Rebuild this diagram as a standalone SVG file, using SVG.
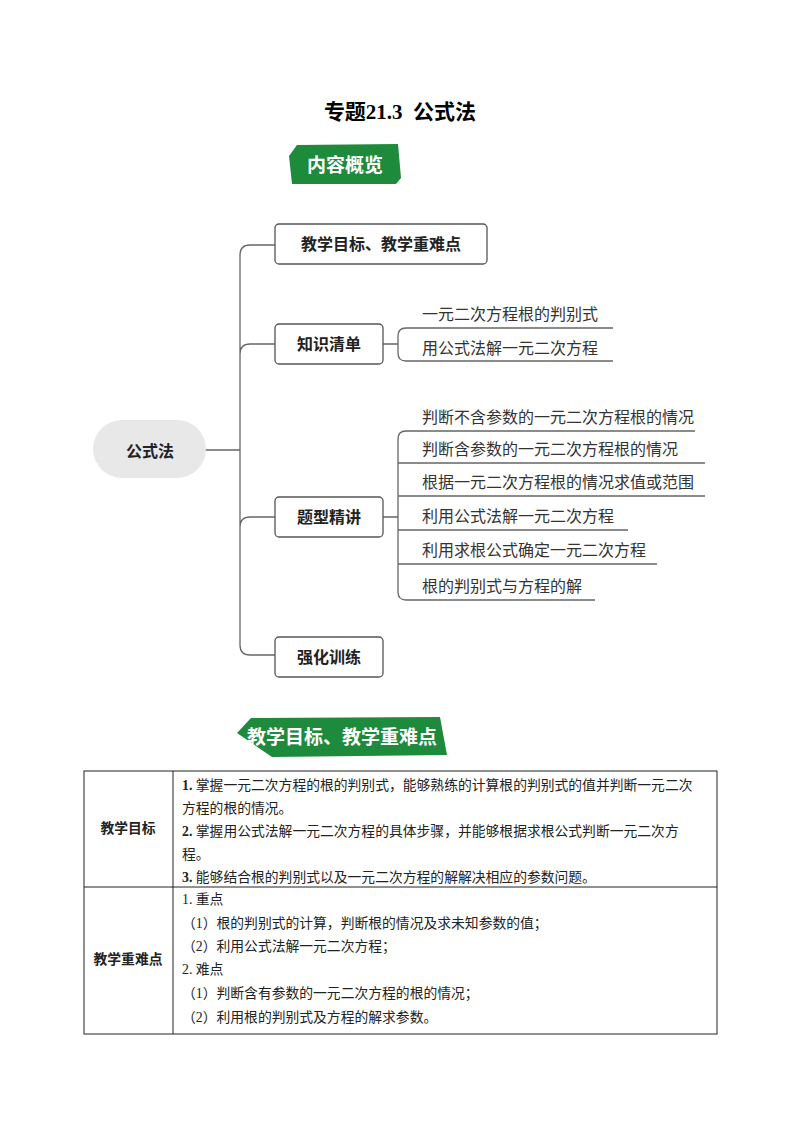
<svg xmlns="http://www.w3.org/2000/svg" width="800" height="1132" viewBox="0 0 800 1132">
<style>
.t{font-family:"Liberation Serif","Noto Sans CJK SC",serif}
.box{fill:#fff;stroke:#555;stroke-width:1.3}
.bt{font-family:"Noto Sans CJK SC",sans-serif;font-weight:bold;font-size:16px;fill:#222}
.lf{font-family:"Noto Sans CJK SC",sans-serif;font-size:16px;fill:#333}
.ln{fill:none;stroke:#666;stroke-width:1.3}
.bn{fill:#1e8a3c}
.bnt{font-family:"Noto Sans CJK SC",sans-serif;font-weight:bold;font-size:19px;fill:#fff}
.tx{font-family:"Liberation Serif","Noto Sans CJK SC",serif;font-size:13.8px;fill:#222}
.tb{fill:none;stroke:#222;stroke-width:1}
</style>
<rect width="800" height="1132" fill="#fff"/>
<text x="400" y="119" text-anchor="middle" class="t" font-size="21" font-weight="bold" xml:space="preserve">专题21.3  公式法</text>
<g id="banner1"><polygon class="bn" points="297,145 398,144 401,178 396,184 292,184 289,156"/><text x="345" y="172" text-anchor="middle" class="bnt">内容概览</text></g>
<g id="connectors">
<path class="ln" d="M205,450 H240 M240,255 Q240,245 250,245 H275 M240,255 V645 Q240,655 250,655 H275 M240,354 Q240,344 250,344 H275 M240,527 Q240,517 250,517 H275"/>
<path class="ln" d="M383,344 H398 M398,336 Q398,328 406,328 H613 M398,353 Q398,361 406,361 H613 M398,353 V336"/>
<path class="ln" d="M383,517 H398 M398,439 Q398,431 406,431 H695 M398,439 V592 Q398,600 406,600 H595 M398,463 H705 M398,496 H705 M398,530 H628 M398,564 H657"/>
</g>
<g id="center"><rect x="93" y="420" width="113" height="58" rx="29" fill="#e8e8e8"/><text x="150" y="457" text-anchor="middle" class="bt" font-size="19">公式法</text></g>
<g id="n1"><rect class="box" x="275" y="224" width="212" height="40" rx="4"/><text x="381" y="250" text-anchor="middle" class="bt">教学目标、教学重难点</text></g>
<g id="n2"><rect class="box" x="275" y="324" width="108" height="40" rx="4"/><text x="329" y="350" text-anchor="middle" class="bt">知识清单</text></g>
<g id="n3"><rect class="box" x="275" y="497" width="108" height="40" rx="4"/><text x="329" y="523" text-anchor="middle" class="bt">题型精讲</text></g>
<g id="n4"><rect class="box" x="275" y="637" width="108" height="40" rx="4"/><text x="329" y="663" text-anchor="middle" class="bt">强化训练</text></g>
<g id="leaves">
<text x="422" y="320" class="lf">一元二次方程根的判别式</text>
<text x="422" y="354" class="lf">用公式法解一元二次方程</text>
<text x="422" y="423" class="lf">判断不含参数的一元二次方程根的情况</text>
<text x="422" y="455" class="lf">判断含参数的一元二次方程根的情况</text>
<text x="422" y="488" class="lf">根据一元二次方程根的情况求值或范围</text>
<text x="422" y="522" class="lf">利用公式法解一元二次方程</text>
<text x="422" y="556" class="lf">利用求根公式确定一元二次方程</text>
<text x="422" y="592" class="lf">根的判别式与方程的解</text>
</g>
<g id="banner2"><polygon class="bn" points="251,718 440,717 447,755 272,757 237,733"/><text x="342" y="744" text-anchor="middle" class="bnt">教学目标、教学重难点</text></g>
<g id="table">
<rect class="tb" x="84" y="771" width="633" height="263"/>
<line class="tb" x1="173" y1="771" x2="173" y2="1034"/>
<line class="tb" x1="84" y1="887" x2="717" y2="887"/>
<text x="128" y="833" text-anchor="middle" class="tx" font-weight="bold">教学目标</text>
<text x="128" y="964" text-anchor="middle" class="tx" font-weight="bold">教学重难点</text>
<text x="182" y="790" class="tx"><tspan font-weight="bold">1.</tspan> 掌握一元二次方程的根的判别式，能够熟练的计算根的判别式的值并判断一元二次</text>
<text x="182" y="813" class="tx">方程的根的情况。</text>
<text x="182" y="836" class="tx"><tspan font-weight="bold">2.</tspan> 掌握用公式法解一元二次方程的具体步骤，并能够根据求根公式判断一元二次方</text>
<text x="182" y="859" class="tx">程。</text>
<text x="182" y="882" class="tx"><tspan font-weight="bold">3.</tspan> 能够结合根的判别式以及一元二次方程的解解决相应的参数问题。</text>
<text x="182" y="904" class="tx">1. 重点</text>
<text x="182" y="928" class="tx">（1）根的判别式的计算，判断根的情况及求未知参数的值；</text>
<text x="182" y="951" class="tx">（2）利用公式法解一元二次方程；</text>
<text x="182" y="974" class="tx">2. 难点</text>
<text x="182" y="998" class="tx">（1）判断含有参数的一元二次方程的根的情况；</text>
<text x="182" y="1022" class="tx">（2）利用根的判别式及方程的解求参数。</text>
</g>
</svg>
